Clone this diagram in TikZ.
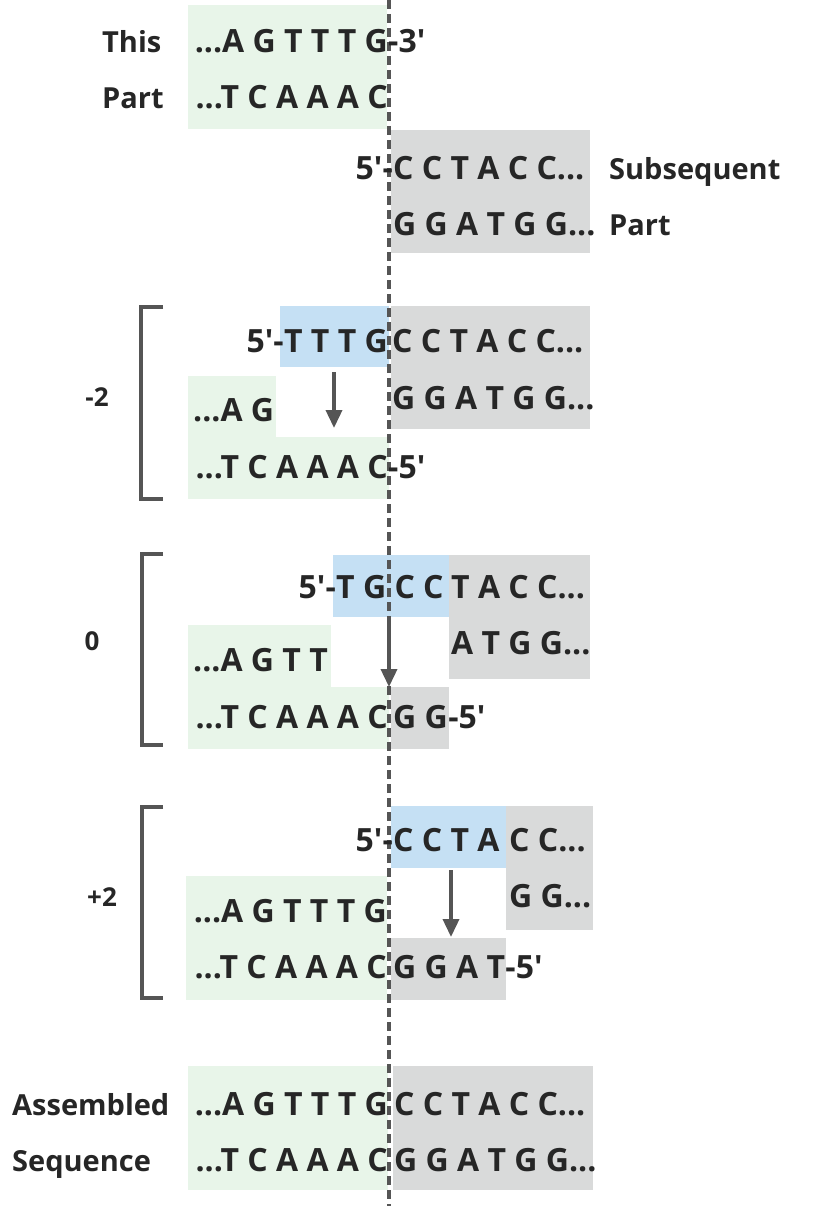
\documentclass[tikz,border=0pt]{standalone}
\usepackage{fontspec}
\setmainfont{Open Sans}
\usetikzlibrary{arrows.meta,positioning}
\definecolor{grnfill}{RGB}{232,245,233}
\definecolor{gryfill}{RGB}{217,218,218}
\definecolor{blufill}{RGB}{197,224,244}
\definecolor{ink}{RGB}{38,38,38}
\definecolor{linegray}{RGB}{85,85,85}
\newcommand{\fiveend}{5\textquotesingle-}
\newcommand{\threeend}{-3\textquotesingle}
\newcommand{\fivetail}{-5\textquotesingle}

\begin{document}
\begin{tikzpicture}[x=1pt,y=-1pt,
  seq/.style={font=\fontsize{32}{36}\selectfont\bfseries,text=ink,inner sep=0pt},
  lbl/.style={font=\fontsize{29}{34}\selectfont\bfseries,text=ink,inner sep=0pt,anchor=base west},
  offlbl/.style={font=\fontsize{26}{30}\selectfont\bfseries,text=ink,inner sep=0pt,anchor=base},
  grnbox/.style={fill=grnfill},
  grybox/.style={fill=gryfill},
  blubox/.style={fill=blufill},
  cutline/.style={draw=linegray,line width=3.4pt,dash pattern=on 9pt off 5pt},
  brk/.style={draw=linegray,line width=4pt},
  dnarrow/.style={draw=linegray,line width=3.6pt,-{Triangle[width=16pt,length=18pt]}}]
\useasboundingbox (0,0) rectangle (820,1212);

% coloured blocks
\fill[grnbox] (188,5) rectangle (387,129);
\fill[grybox] (391,130) rectangle (590,253);

\fill[blubox] (280,306) rectangle (389,367);
\fill[grybox] (391,306) rectangle (590,429);
\fill[grnbox] (188,376) rectangle (276,437);
\fill[grnbox] (188,437) rectangle (389,499);

\fill[blubox] (333,555) rectangle (449,617);
\fill[grybox] (449,555) rectangle (590,679);
\fill[grnbox] (188,625) rectangle (331,687);
\fill[grnbox] (188,687) rectangle (389,749);
\fill[grybox] (391,687) rectangle (449,749);

\fill[blubox] (391,806) rectangle (506,868);
\fill[grybox] (506,806) rectangle (593,930);
\fill[grnbox] (186,876) rectangle (387,1000);
\fill[grybox] (391,938) rectangle (506,1000);

\fill[grnbox] (188,1066) rectangle (388,1190);
\fill[grybox] (393,1066) rectangle (593,1190);

% junction line
\coordinate (cuttop) at (389,0); \coordinate (cutbot) at (389,1206);
\draw[cutline] (cuttop)--(cutbot);

% brackets
\draw[brk] (163,307)--(141,307)--(141,499)--(163,499);
\draw[brk] (163,554)--(142,554)--(142,745)--(163,745);
\draw[brk] (163,807)--(142,807)--(142,998)--(163,998);

% this part / subsequent part
\node[seq,anchor=base east] (thistop) at (388,53) {...A G T T T G};
\node[seq,base right=0pt of thistop] (thisend) {\threeend};
\node[seq,anchor=base east] (thisbot) at (388,109) {...T C A A A C};
\node[seq,anchor=base west] (subtop) at (393,179) {C C T A C C...};
\node[seq,base left=0pt of subtop] (subfive) {\fiveend};
\node[seq,anchor=base west] (subbot) at (393,235) {G G A T G G...};
\node[lbl] (this) at (102,53) {This};
\node[lbl] (thispart) at (102,109) {Part};
\node[lbl] (subseq) at (609,179) {Subsequent};
\node[lbl] (subpart) at (609,235) {Part};

% -2
\node[seq,anchor=base east] (mtwoovh) at (388,352) {T T T G};
\node[seq,base left=0pt of mtwoovh] (mtwofive) {\fiveend};
\node[seq,anchor=base west] (mtwotop) at (392,352) {C C T A C C...};
\node[seq,anchor=base west] (mtwobot) at (392,409) {G G A T G G...};
\node[seq,anchor=base west] (mtwoag) at (193,421) {...A G};
\node[seq,anchor=base east] (mtwotc) at (388,478) {...T C A A A C};
\node[seq,base right=0pt of mtwotc] (mtwoend) {\fivetail};
\node[offlbl] (mtwo) at (97,406) {-2};
\coordinate (mtwofrom) at (334,372); \coordinate (mtwoto) at (334,428);
\draw[dnarrow] (mtwofrom)--(mtwoto);

% 0
\node[seq,anchor=base west] (zeroovh) at (336,598) {T G C C};
\node[seq,base left=0pt of zeroovh] (zerofive) {\fiveend};
\node[seq,anchor=base west] (zerotop) at (451,598) {T A C C...};
\node[seq,anchor=base west] (zerobot) at (451,654) {A T G G...};
\node[seq,anchor=base west] (zeroag) at (193,671) {...A G T T};
\node[seq,anchor=base east] (zerotc) at (388,728) {...T C A A A C};
\node[seq,anchor=base west] (zerogg) at (393,728) {G G};
\node[seq,base right=0pt of zerogg] (zeroend) {\fivetail};
\node[offlbl] (zero) at (92,650) {0};
\coordinate (zerofrom) at (389,622); \coordinate (zeroto) at (389,687);
\draw[dnarrow] (zerofrom)--(zeroto);

% +2
\node[seq,anchor=base west] (ptwoovh) at (393,851) {C C T A};
\node[seq,base left=0pt of ptwoovh] (ptwofive) {\fiveend};
\node[seq,anchor=base west] (ptwotop) at (509,851) {C C...};
\node[seq,anchor=base west] (ptwobot) at (509,907) {G G...};
\node[seq,anchor=base east] (ptwoag) at (387,922) {...A G T T T G};
\node[seq,anchor=base east] (ptwotc) at (387,978) {...T C A A A C};
\node[seq,anchor=base west] (ptwogg) at (393,978) {G G A T};
\node[seq,base right=0pt of ptwogg] (ptwoend) {\fivetail};
\node[offlbl] (ptwo) at (102,906) {+2};
\coordinate (ptwofrom) at (451,870); \coordinate (ptwoto) at (451,937);
\draw[dnarrow] (ptwofrom)--(ptwoto);

% assembled
\node[seq,anchor=base east] (asmtop) at (388,1115) {...A G T T T G};
\node[seq,anchor=base west] (asmtopr) at (394,1115) {C C T A C C...};
\node[seq,anchor=base east] (asmbot) at (388,1171) {...T C A A A C};
\node[seq,anchor=base west] (asmbotr) at (394,1171) {G G A T G G...};
\node[lbl] (asm) at (12,1115) {Assembled};
\node[lbl] (asmseq) at (12,1171) {Sequence};
\end{tikzpicture}
\end{document}
